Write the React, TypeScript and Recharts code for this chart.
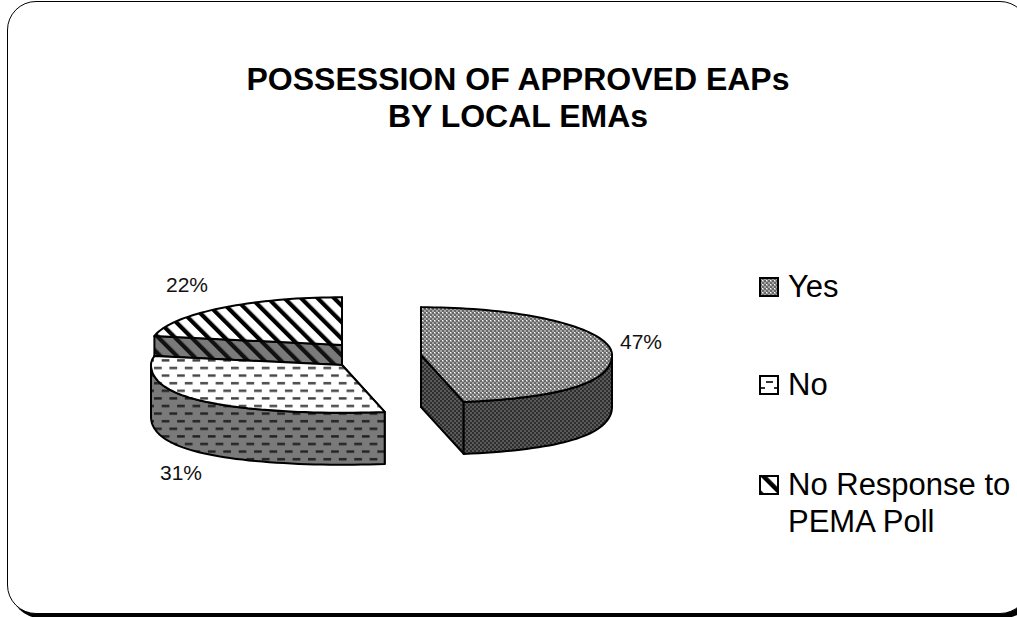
import React from "react";
import { PieChart, Pie, Legend } from "recharts";

// Poll results for local emergency management agencies.
const categories = ["Yes", "No", "No Response to PEMA Poll"];
const shares = [47, 31, 22];
const titleLines = ["POSSESSION OF APPROVED EAPs", "BY LOCAL EMAs"];

const FONT = '"Liberation Sans", Arial, sans-serif';
const TILT = 0.25; // vertical squash of the pie disc
const DEPTH = 52; // height of the extruded wall
const FRONT_WIDEN = 0.2; // the near edge of the disc is drawn a little wider

// Pixel shift of every exploded slice and where its percentage sits.
const sliceLayout: Record<string, { dx: number; dy: number; lx: number; ly: number }> = {
  Yes: { dx: 41, dy: 0, lx: 641, ly: 349 },
  No: { dx: -38, dy: 10, lx: 181, ly: 480 },
  "No Response to PEMA Poll": { dx: -38, dy: -10, lx: 187, ly: 292 },
};

const fills: Record<string, { top: string; side: string }> = {
  Yes: { top: "url(#yesTop)", side: "url(#yesSide)" },
  No: { top: "url(#noTop)", side: "url(#noSide)" },
  "No Response to PEMA Poll": { top: "url(#nrTop)", side: "url(#nrSide)" },
};

// Drawn back to front, counter-clockwise from twelve o'clock, so the "No" slice overlaps its neighbour.
const pieRows = categories.map((name, i) => ({ name, value: shares[i] })).reverse();

const RAD = Math.PI / 180;

function rimPoint(cx: number, cy: number, r: number, deg: number): [number, number] {
  const c = Math.cos(deg * RAD);
  const s = Math.sin(deg * RAD);
  const widen = s < 0 ? 1 + FRONT_WIDEN * s * s : 1;
  return [cx + r * c * widen, cy - r * TILT * s];
}

function arcPoints(cx: number, cy: number, r: number, a0: number, a1: number) {
  const steps = Math.max(2, Math.ceil(Math.abs(a1 - a0) / 2));
  const pts: [number, number][] = [];
  for (let i = 0; i <= steps; i++) pts.push(rimPoint(cx, cy, r, a0 + ((a1 - a0) * i) / steps));
  return pts;
}

const toPath = (pts: [number, number][]) =>
  "M" + pts.map((p) => `${p[0].toFixed(1)},${p[1].toFixed(1)}`).join("L") + "Z";

function Wedge3D(props: any) {
  const { cx, cy, outerRadius, startAngle, endAngle, name } = props;
  const layout = sliceLayout[name];
  const fill = fills[name];
  const x = cx + layout.dx;
  const y = cy + layout.dy;
  const lo = Math.min(startAngle, endAngle);
  const hi = Math.max(startAngle, endAngle);
  const rim = arcPoints(x, y, outerRadius, lo, hi);

  const radialWall = (deg: number) => {
    const p = rimPoint(x, y, outerRadius, deg);
    return toPath([[x, y], p, [p[0], p[1] + DEPTH], [x, y + DEPTH]]);
  };

  // The outer wall only shows along the near half of the disc.
  const wallRanges: [number, number][] = [];
  const a = Math.max(lo, 180);
  const b = Math.min(hi, 360);
  if (b > a) wallRanges.push([a, b]);
  const a2 = Math.max(lo, 540);
  const b2 = Math.min(hi, 720);
  if (b2 > a2) wallRanges.push([a2, b2]);
  const a3 = Math.max(lo, -180);
  const b3 = Math.min(hi, 0);
  if (b3 > a3) wallRanges.push([a3, b3]);

  const common = { stroke: "#000", strokeWidth: 2, strokeLinejoin: "round" as const };
  return (
    <g>
      <path d={radialWall(lo)} fill={fill.side} {...common} />
      <path d={radialWall(hi)} fill={fill.side} {...common} />
      {wallRanges.map(([w0, w1]) => {
        const front = arcPoints(x, y, outerRadius, w0, w1);
        const back = front.map((p) => [p[0], p[1] + DEPTH] as [number, number]).reverse();
        return <path key={w0} d={toPath([...front, ...back])} fill={fill.side} {...common} />;
      })}
      <path d={toPath([[x, y], ...rim])} fill={fill.top} {...common} />
    </g>
  );
}

function percentLabel(props: any) {
  const layout = sliceLayout[props.name];
  return (
    <text x={layout.lx} y={layout.ly} textAnchor="middle" fontFamily={FONT} fontSize={21} fill="#111">
      {`${props.value}%`}
    </text>
  );
}

const legendRows = [
  { name: "Yes", lines: ["Yes"], top: 278, swatch: "url(#yesTop)" },
  { name: "No", lines: ["No"], top: 376, swatch: "url(#noKey)" },
  { name: "No Response to PEMA Poll", lines: ["No Response to", "PEMA Poll"], top: 476, swatch: "url(#nrKey)" },
];

function LegendKey() {
  return (
    <svg width={1017} height={617} style={{ display: "block" }}>
      {legendRows.map((row) => (
        <g key={row.name}>
          <rect x={760} y={row.top} width={18} height={18} fill={row.swatch} stroke="#000" strokeWidth={2} />
          {row.lines.map((line, i) => (
            <text key={line} x={788} y={row.top + 19 + i * 37} fontFamily={FONT} fontSize={31} fill="#000">
              {line}
            </text>
          ))}
        </g>
      ))}
    </svg>
  );
}

function Hatches() {
  return (
    <svg width={0} height={0} style={{ position: "absolute" }}>
      <defs>
        <pattern id="yesTop" width={4} height={4} patternUnits="userSpaceOnUse">
          <rect width={4} height={4} fill="#a6a6a6" />
          <rect x={0} y={0} width={2} height={2} fill="#686868" />
          <rect x={2} y={2} width={2} height={2} fill="#686868" />
          <rect x={2} y={0} width={1} height={1} fill="#fff" />
        </pattern>
        <pattern id="yesSide" width={4} height={4} patternUnits="userSpaceOnUse">
          <rect width={4} height={4} fill="#5a5a5a" />
          <rect x={0} y={0} width={2} height={2} fill="#2e2e2e" />
          <rect x={2} y={2} width={2} height={2} fill="#2e2e2e" />
        </pattern>
        <pattern id="noTop" width={15.4} height={15.2} patternUnits="userSpaceOnUse">
          <rect width={15.4} height={15.2} fill="#fff" />
          <rect x={0} y={2} width={7.8} height={2.4} fill="#444" />
          <rect x={7.7} y={9.6} width={7.8} height={2.4} fill="#444" />
        </pattern>
        <pattern id="noSide" width={15.4} height={15.2} patternUnits="userSpaceOnUse">
          <rect width={15.4} height={15.2} fill="#7a7a7a" />
          <rect x={0} y={2} width={7.8} height={2.4} fill="#222" />
          <rect x={7.7} y={9.6} width={7.8} height={2.4} fill="#222" />
        </pattern>
        <pattern id="nrTop" width={11.7} height={11.7} patternUnits="userSpaceOnUse" patternTransform="rotate(-45)">
          <rect width={11.7} height={11.7} fill="#fff" />
          <rect width={4.2} height={11.7} fill="#000" />
        </pattern>
        <pattern id="nrSide" width={11.7} height={11.7} patternUnits="userSpaceOnUse" patternTransform="rotate(-45)">
          <rect width={11.7} height={11.7} fill="#7a7a7a" />
          <rect width={4.2} height={11.7} fill="#111" />
        </pattern>
        <pattern id="noKey" x={760} y={376} width={18} height={18} patternUnits="userSpaceOnUse">
          <rect width={18} height={18} fill="#fff" />
          <rect x={6} y={5} width={7} height={2} fill="#333" />
          <rect x={0} y={11} width={5} height={2} fill="#333" />
          <rect x={14} y={11} width={4} height={2} fill="#333" />
        </pattern>
        <pattern id="nrKey" x={0} y={0} width={14.1} height={14.1} patternUnits="userSpaceOnUse" patternTransform="translate(760 476) rotate(-45)">
          <rect width={14.1} height={14.1} fill="#fff" />
          <rect width={4.5} height={14.1} fill="#000" />
        </pattern>
      </defs>
    </svg>
  );
}

export default function App() {
  return (
    <div style={{ position: "fixed", left: 0, top: 0, width: 1017, height: 617, overflow: "hidden", background: "#fff" }}>
      <Hatches />
      <div
        style={{
          position: "absolute",
          left: 7,
          top: 1,
          width: 1020,
          height: 611,
          border: "1.5px solid #000",
          borderRadius: 29,
          boxShadow: "4px 4px 0 #000",
          background: "#fff",
        }}
      />
      <div style={{ position: "absolute", left: 0, top: 0 }}>
        <PieChart width={1017} height={617} margin={{ top: 0, right: 0, bottom: 0, left: 0 }}>
          {titleLines.map((line, i) => (
            <text key={line} x={518} y={90 + i * 37} textAnchor="middle" fontFamily={FONT} fontWeight="bold" fontSize={32} fill="#000">
              {line}
            </text>
          ))}
          <Pie
            data={pieRows}
            dataKey="value"
            nameKey="name"
            cx={380}
            cy={355}
            outerRadius={191}
            startAngle={90}
            endAngle={450}
            stroke="#000"
            isAnimationActive={false}
            shape={Wedge3D}
            label={percentLabel}
            labelLine={false}
          />
          <Legend
            content={LegendKey}
            wrapperStyle={{ position: "absolute", left: 0, top: 0, width: 1017, height: 617, pointerEvents: "none" }}
          />
        </PieChart>
      </div>
    </div>
  );
}
